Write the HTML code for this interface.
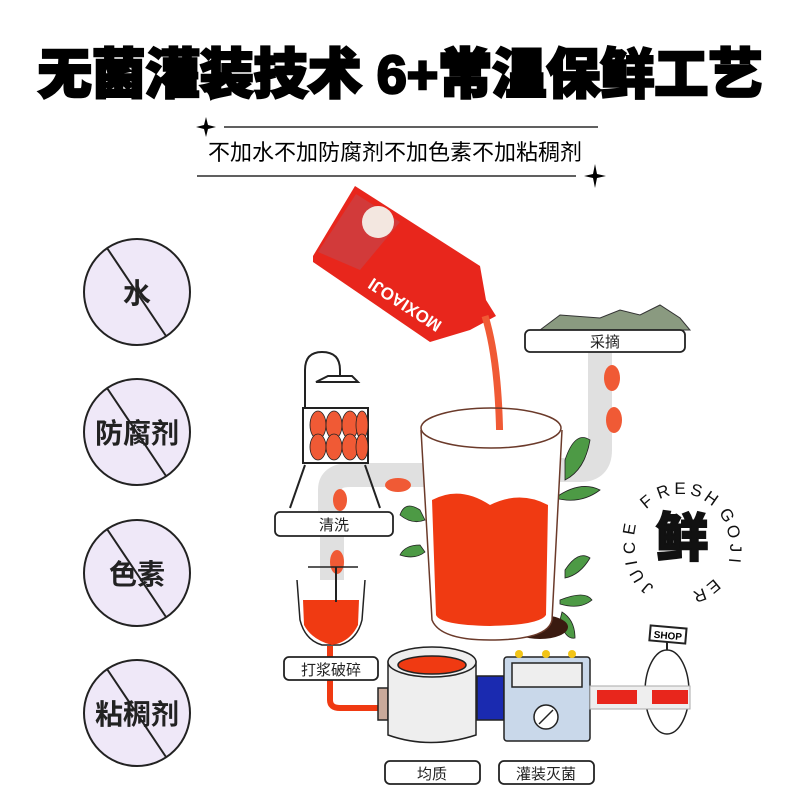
<!DOCTYPE html>
<html><head><meta charset="utf-8"><style>
html,body{margin:0;padding:0;background:#fff}
svg{display:block}
.t{font-family:"Liberation Sans","Noto Sans CJK SC",sans-serif}
</style></head><body>
<svg width="800" height="800" viewBox="0 0 800 800" xmlns="http://www.w3.org/2000/svg">
<rect width="800" height="800" fill="#fff"/>
<text x="400" y="93" text-anchor="middle" class="t" font-size="54" font-weight="900" fill="#000" stroke="#000" stroke-width="2.5">无菌灌装技术 6+常温保鲜工艺</text>
<line x1="224" y1="127" x2="598" y2="127" stroke="#000" stroke-width="1.2"/>
<line x1="197" y1="176" x2="576" y2="176" stroke="#000" stroke-width="1.2"/>
<path d="M206 117 L208 125 L216 127 L208 129 L206 137 L204 129 L196 127 L204 125Z" fill="#000"/>
<path d="M595 164 L597 174 L606 176 L597 178 L595 188 L593 178 L584 176 L593 174Z" fill="#000"/>
<text x="395" y="160" text-anchor="middle" class="t" font-size="22" fill="#000">不加水不加防腐剂不加色素不加粘稠剂</text>

<g class="t" font-weight="bold" fill="#222">
<g><circle cx="137" cy="292" r="53" fill="#efe8f8" stroke="#222" stroke-width="2"/><line x1="107" y1="248" x2="166" y2="336" stroke="#222" stroke-width="2"/><text x="137" y="303" text-anchor="middle" font-size="28">水</text></g>
<g><circle cx="137" cy="432" r="53" fill="#efe8f8" stroke="#222" stroke-width="2"/><line x1="107" y1="388" x2="166" y2="476" stroke="#222" stroke-width="2"/><text x="137" y="443" text-anchor="middle" font-size="28">防腐剂</text></g>
<g><circle cx="137" cy="573" r="53" fill="#efe8f8" stroke="#222" stroke-width="2"/><line x1="107" y1="529" x2="166" y2="617" stroke="#222" stroke-width="2"/><text x="137" y="584" text-anchor="middle" font-size="28">色素</text></g>
<g><circle cx="137" cy="713" r="53" fill="#efe8f8" stroke="#222" stroke-width="2"/><line x1="107" y1="669" x2="166" y2="757" stroke="#222" stroke-width="2"/><text x="137" y="724" text-anchor="middle" font-size="28">粘稠剂</text></g>
</g>

<g fill="none">
<path d="M600 352 L600 450 Q600 470 580 470 L540 470" stroke="#e0e0e0" stroke-width="24"/>
<path d="M330 512 L330 490 Q330 475 350 475 L430 475" stroke="#e0e0e0" stroke-width="24"/>
<path d="M332 536 L332 600" stroke="#e0e0e0" stroke-width="24"/>
</g>
<g fill="#f05a35">
<ellipse cx="612" cy="378" rx="8" ry="13"/><ellipse cx="614" cy="420" rx="8" ry="13"/>
<ellipse cx="398" cy="485" rx="13" ry="7"/><ellipse cx="340" cy="500" rx="7" ry="11"/>
<ellipse cx="337" cy="562" rx="7" ry="12"/>
</g>

<g fill="none" stroke="#222" stroke-width="2">
<path d="M305 420 L305 370 Q305 352 322 352 Q340 352 340 370 L340 380"/>
<path d="M316 382 L358 382 L352 376 L328 376Z" fill="#fff"/>
<rect x="303" y="408" width="65" height="55" fill="#fff"/>
<line x1="305" y1="465" x2="290" y2="508"/><line x1="365" y1="465" x2="380" y2="508"/>
</g>
<g fill="#f05a35" stroke="#222" stroke-width="0.8">
<ellipse cx="318" cy="425" rx="8" ry="14"/><ellipse cx="334" cy="425" rx="8" ry="14"/><ellipse cx="350" cy="425" rx="8" ry="14"/><ellipse cx="362" cy="425" rx="6" ry="14"/>
<ellipse cx="318" cy="447" rx="8" ry="13"/><ellipse cx="334" cy="447" rx="8" ry="13"/><ellipse cx="350" cy="447" rx="8" ry="13"/><ellipse cx="362" cy="447" rx="6" ry="13"/>
</g>

<g>
<polygon points="313,256 355,186 480,266 486,300 496,316 470,330 430,342 313,262" fill="#e8261c"/>
<polygon points="318,252 356,194 400,222 360,270" fill="#d23a3a"/>
<circle cx="378" cy="222" r="16" fill="#f3e7e0"/>
<text transform="translate(408,300) rotate(213)" class="t" font-size="17" font-weight="bold" fill="#fff" text-anchor="middle">MOXIAOJI</text>
</g>
<path d="M485 316 Q505 380 498 520" fill="none" stroke="#f05a35" stroke-width="7"/>

<g fill="#4d9a45" stroke="#222" stroke-width="0.8">
<path d="M565 460 Q575 430 590 440 Q585 470 565 480Z"/><path d="M555 498 Q580 480 600 490 Q580 505 555 498Z"/>
<path d="M420 510 Q405 500 400 515 Q412 525 425 520Z"/><path d="M420 545 Q405 545 400 555 Q415 560 425 552Z"/>
<path d="M560 600 Q585 590 592 600 Q580 610 560 604Z"/><path d="M565 570 Q578 550 590 558 Q580 575 565 578Z"/>
<path d="M560 620 Q565 640 575 638 Q575 620 562 612Z"/>
</g>
<ellipse cx="540" cy="627" rx="28" ry="12" fill="#3a1a10"/>

<path d="M421 430 L432 620 Q440 640 490 640 Q548 640 552 620 L562 430" fill="#fff" stroke="#6b3a2a" stroke-width="1.5"/>
<ellipse cx="491" cy="428" rx="70" ry="20" fill="none" stroke="#6b3a2a" stroke-width="1.5"/>
<path d="M432 500 Q460 485 490 505 Q520 490 548 505 L546 615 Q540 625 490 626 Q440 625 436 615Z" fill="#f03a12"/>

<path d="M540 330 L560 315 L600 318 L620 310 L640 315 L660 305 L680 318 L690 330Z" fill="#8a9a80" stroke="#333" stroke-width="1"/>

<g class="t" font-size="15" fill="#222">
<rect x="525" y="330" width="160" height="22" rx="5" fill="#fff" stroke="#222" stroke-width="1.8"/><text x="605" y="347" text-anchor="middle">采摘</text>
<rect x="275" y="512" width="118" height="24" rx="5" fill="#fff" stroke="#222" stroke-width="1.8"/><text x="334" y="530" text-anchor="middle">清洗</text>
</g>

<g stroke="#222" stroke-width="1.5">
<path d="M297 580 L300 620 Q305 640 322 645 L340 645 Q357 640 362 620 L365 580" fill="#fff"/>
<path d="M303 600 L359 600 L358 625 Q350 642 332 645 Q312 640 304 625Z" fill="#f03a12" stroke="none"/>
<line x1="308" y1="567" x2="358" y2="567"/>
<line x1="336" y1="567" x2="336" y2="602" stroke-width="2"/>
<path d="M330 646 L330 700 Q330 708 340 708 L380 708" fill="none" stroke="#f03a12" stroke-width="6"/>
</g>

<g class="t" font-size="15" fill="#222">
<rect x="284" y="657" width="94" height="23" rx="5" fill="#fff" stroke="#222" stroke-width="1.8"/><text x="331" y="675" text-anchor="middle">打浆破碎</text>
<rect x="385" y="761" width="95" height="23" rx="5" fill="#fff" stroke="#222" stroke-width="1.8"/><text x="432" y="779" text-anchor="middle">均质</text>
<rect x="499" y="761" width="95" height="23" rx="5" fill="#fff" stroke="#222" stroke-width="1.8"/><text x="546" y="779" text-anchor="middle">灌装灭菌</text>
</g>

<g stroke="#222" stroke-width="1.5">
<rect x="378" y="688" width="10" height="32" fill="#c9a99a"/>
<path d="M388 662 L388 735 Q430 750 476 735 L476 662Z" fill="#eee"/>
<ellipse cx="432" cy="662" rx="44" ry="15" fill="#eee"/>
<ellipse cx="432" cy="665" rx="34" ry="9" fill="#f03a12"/>
<rect x="477" y="676" width="27" height="44" fill="#1a2ab0"/>
<rect x="504" y="657" width="86" height="84" rx="3" fill="#c9d8ea"/>
<rect x="512" y="663" width="70" height="24" fill="#eee"/>
<circle cx="546" cy="717" r="12" fill="#fff"/>
<line x1="539" y1="724" x2="553" y2="710"/>
</g>
<g fill="#f2c416"><circle cx="519" cy="654" r="4"/><circle cx="546" cy="654" r="4"/><circle cx="572" cy="654" r="4"/></g>
<ellipse cx="667" cy="692" rx="22" ry="42" fill="#fff" stroke="#222" stroke-width="1.5"/>
<rect x="590" y="686" width="100" height="23" fill="#eee" stroke="#aaa"/>
<rect x="597" y="690" width="40" height="14" fill="#e8261c"/><rect x="652" y="690" width="36" height="14" fill="#e8261c"/>
<line x1="667" y1="650" x2="667" y2="640" stroke="#222" stroke-width="2"/>
<rect x="650" y="627" width="36" height="15" fill="#fff" stroke="#222" stroke-width="2" transform="rotate(5 668 634)"/>
<text x="668" y="639" text-anchor="middle" class="t" font-size="10" font-weight="bold" transform="rotate(5 668 634)">SHOP</text>

<g class="t" font-size="17" fill="#111" text-anchor="middle">
<text x="682" y="556" font-size="52" font-weight="900" stroke="#111" stroke-width="2">鲜</text>
<text transform="translate(650,506) rotate(-40)">F</text>
<text transform="translate(665,497) rotate(-20)">R</text>
<text transform="translate(680,494) rotate(0)">E</text>
<text transform="translate(695,496) rotate(15)">S</text>
<text transform="translate(708,503) rotate(35)">H</text>
<text transform="translate(722,518) rotate(60)">G</text>
<text transform="translate(728,533) rotate(75)">O</text>
<text transform="translate(730,548) rotate(90)">J</text>
<text transform="translate(729,560) rotate(95)">I</text>
<text transform="translate(635,530) rotate(-80)">E</text>
<text transform="translate(635,548) rotate(-90)">C</text>
<text transform="translate(637,562) rotate(-100)">I</text>
<text transform="translate(642,573) rotate(-120)">U</text>
<text transform="translate(651,584) rotate(-140)">J</text>
<text transform="translate(710,582) rotate(140)">E</text>
<text transform="translate(698,590) rotate(160)">R</text>
</g>
</svg>
</body></html>
